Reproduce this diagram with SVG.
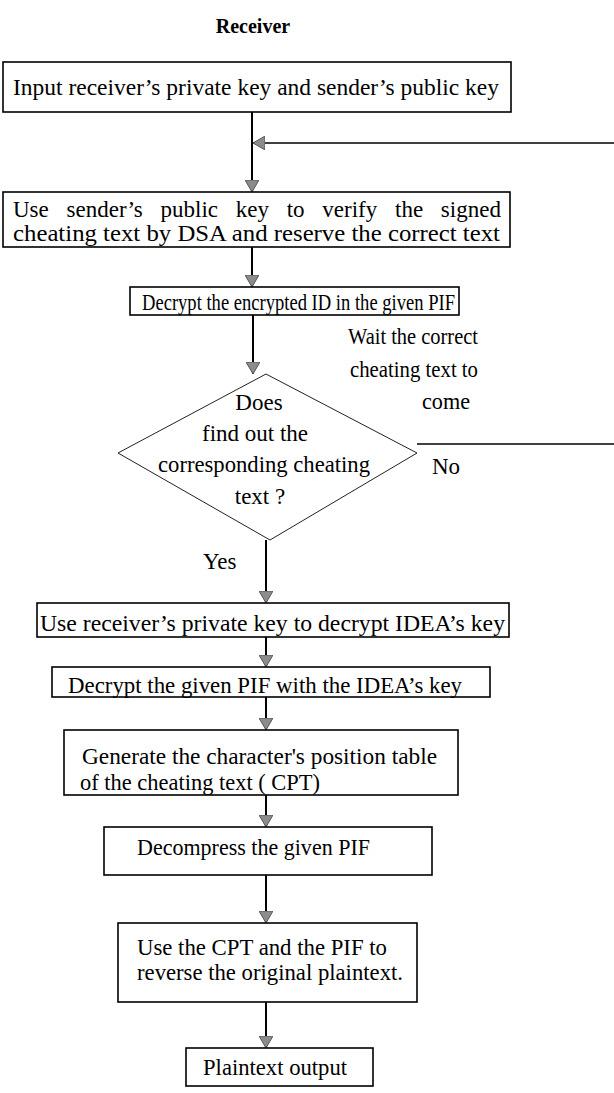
<svg xmlns="http://www.w3.org/2000/svg" width="614" height="1093" viewBox="0 0 614 1093">
<style>
  .box { fill: #ffffff; stroke: #000000; stroke-width: 1.6; }
  .dia { fill: #ffffff; stroke: #222222; stroke-width: 1; }
  .t { font-family: "Liberation Serif", "Times New Roman", serif; font-size: 23px; fill: #000000; }
  .title { font-family: "Liberation Serif", "Times New Roman", serif; font-size: 20px; font-weight: bold; fill: #000000; }
  .c { fill: none; stroke: #000000; stroke-width: 2; }
  .thin { fill: none; stroke: #000000; stroke-width: 1.3; }
</style>
<defs>
  <marker id="ah" viewBox="0 0 12 14" refX="12" refY="7" markerWidth="12" markerHeight="14" markerUnits="userSpaceOnUse" orient="auto">
    <path d="M0,0 L12,7 L0,14 Z" fill="#8c8c8c" stroke="#555555" stroke-width="1"/>
  </marker>
</defs>
<text class="title" x="253" y="33" text-anchor="middle">Receiver</text>
<g id="connectors">
  <line class="c" x1="252" y1="112" x2="252" y2="192" marker-end="url(#ah)"/>
  <line class="thin" x1="614" y1="143" x2="253" y2="143" marker-end="url(#ah)"/>
  <line class="c" x1="252" y1="247" x2="252" y2="287" marker-end="url(#ah)"/>
  <line class="c" x1="253" y1="315" x2="253" y2="374" marker-end="url(#ah)"/>
  <line class="thin" x1="417" y1="444" x2="614" y2="444"/>
  <line class="c" x1="266" y1="540" x2="266" y2="603" marker-end="url(#ah)"/>
  <line class="c" x1="266" y1="637" x2="266" y2="667" marker-end="url(#ah)"/>
  <line class="c" x1="266" y1="697" x2="266" y2="730" marker-end="url(#ah)"/>
  <line class="c" x1="266" y1="795" x2="266" y2="827" marker-end="url(#ah)"/>
  <line class="c" x1="266" y1="875" x2="266" y2="923" marker-end="url(#ah)"/>
  <line class="c" x1="266" y1="1002" x2="266" y2="1048" marker-end="url(#ah)"/>
  <text class="t" x="348" y="344" textLength="130" lengthAdjust="spacingAndGlyphs">Wait the correct</text>
  <text class="t" x="350" y="377" textLength="128" lengthAdjust="spacingAndGlyphs">cheating text to</text>
  <text class="t" x="422" y="409" textLength="48" lengthAdjust="spacingAndGlyphs">come</text>
  <text class="t" x="432" y="474">No</text>
  <text class="t" x="203" y="569">Yes</text>
</g>
<g id="n1">
  <rect class="box" x="3" y="62" width="508" height="50"/>
  <text class="t" x="13" y="95" textLength="486" lengthAdjust="spacingAndGlyphs">Input receiver’s private key and sender’s public key</text>
</g>
<g id="n2">
  <rect class="box" x="3" y="192" width="507" height="55"/>
  <text class="t" x="13" y="217" word-spacing="12">Use sender’s public key to verify the signed</text>
  <text class="t" x="13" y="241" textLength="487" lengthAdjust="spacingAndGlyphs">cheating text by DSA and reserve the correct text</text>
</g>
<g id="n3">
  <rect class="box" x="130" y="287" width="329" height="28"/>
  <text class="t" x="142" y="310" textLength="313" lengthAdjust="spacingAndGlyphs">Decrypt the encrypted ID in the given PIF</text>
</g>
<g id="n4">
  <polygon class="dia" points="266,374 417,453 270,540 118,453"/>
  <text class="t" x="259" y="410" text-anchor="middle">Does</text>
  <text class="t" x="255" y="441" text-anchor="middle">find out the</text>
  <text class="t" x="264" y="472" text-anchor="middle" textLength="212" lengthAdjust="spacingAndGlyphs">corresponding cheating</text>
  <text class="t" x="260" y="504" text-anchor="middle">text ?</text>
</g>
<g id="n5">
  <rect class="box" x="37" y="603" width="472" height="34"/>
  <text class="t" x="40" y="631" textLength="465" lengthAdjust="spacingAndGlyphs">Use receiver’s private key to decrypt IDEA’s key</text>
</g>
<g id="n6">
  <rect class="box" x="52" y="667" width="438" height="30"/>
  <text class="t" x="68" y="693" textLength="394" lengthAdjust="spacingAndGlyphs">Decrypt the given PIF with the IDEA’s key</text>
</g>
<g id="n7">
  <rect class="box" x="64" y="730" width="394" height="65"/>
  <text class="t" x="82" y="764" textLength="355" lengthAdjust="spacingAndGlyphs">Generate the character's position table</text>
  <text class="t" x="80" y="790" textLength="240" lengthAdjust="spacingAndGlyphs">of the cheating text ( CPT)</text>
</g>
<g id="n8">
  <rect class="box" x="104" y="827" width="328" height="48"/>
  <text class="t" x="137" y="855" textLength="233" lengthAdjust="spacingAndGlyphs">Decompress the given PIF</text>
</g>
<g id="n9">
  <rect class="box" x="118" y="923" width="299" height="79"/>
  <text class="t" x="137" y="955" textLength="250" lengthAdjust="spacingAndGlyphs">Use the CPT and the PIF to</text>
  <text class="t" x="137" y="980" textLength="266" lengthAdjust="spacingAndGlyphs">reverse the original plaintext.</text>
</g>
<g id="n10">
  <rect class="box" x="186" y="1048" width="187" height="38"/>
  <text class="t" x="203" y="1075" textLength="144" lengthAdjust="spacingAndGlyphs">Plaintext output</text>
</g>
</svg>
